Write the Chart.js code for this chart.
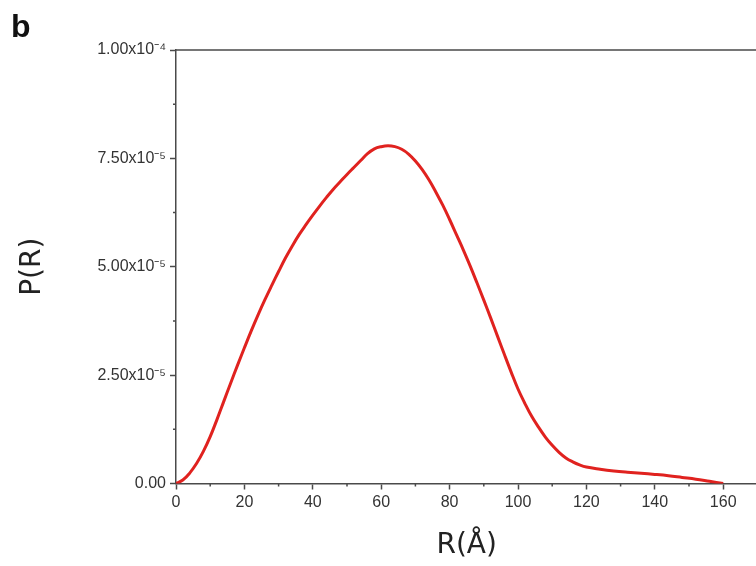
<!DOCTYPE html>
<html><head><meta charset="utf-8">
<script src="https://cdn.jsdelivr.net/npm/chart.js@4/dist/chart.umd.min.js"></script>
<style>html,body{margin:0;padding:0;overflow:hidden;background:#fff;width:756px;height:566px}canvas{display:block}</style>
</head><body>
<canvas id="c" width="760" height="566"></canvas>
<script>
const rValues = [0,2,4,6,8,10,12,14,16,18,20,22,24,26,28,30,32,34,36,38,40,42,44,46,48,50,52,54,56,58,60,62,64,66,68,70,72,74,76,78,80,82,84,86,88,90,92,94,96,98,100,102,104,106,108,110,112,114,116,118,120,124,128,132,136,140,144,148,152,156,160];
const pValues = [0,0.08e-5,0.24e-5,0.46e-5,0.74e-5,1.08e-5,1.48e-5,1.90e-5,2.32e-5,2.73e-5,3.13e-5,3.52e-5,3.89e-5,4.24e-5,4.57e-5,4.89e-5,5.20e-5,5.48e-5,5.74e-5,5.97e-5,6.19e-5,6.40e-5,6.60e-5,6.79e-5,6.96e-5,7.13e-5,7.29e-5,7.45e-5,7.61e-5,7.72e-5,7.77e-5,7.79e-5,7.77e-5,7.71e-5,7.60e-5,7.44e-5,7.24e-5,7.00e-5,6.72e-5,6.42e-5,6.09e-5,5.74e-5,5.39e-5,5.02e-5,4.63e-5,4.23e-5,3.82e-5,3.40e-5,2.98e-5,2.57e-5,2.18e-5,1.85e-5,1.55e-5,1.30e-5,1.07e-5,0.88e-5,0.72e-5,0.59e-5,0.50e-5,0.43e-5,0.38e-5,0.33e-5,0.29e-5,0.26e-5,0.235e-5,0.21e-5,0.18e-5,0.14e-5,0.10e-5,0.05e-5,0];
const xTicks = [0,20,40,60,80,100,120,140,160];
const xMinorTicks = [10,30,50,70,90,110,130,150,170];
const yTicks = [0,2.5e-5,5e-5,7.5e-5,1e-4];
const yTickLabels = ['0.00','2.50x10\u207B\u2075','5.00x10\u207B\u2075','7.50x10\u207B\u2075','1.00x10\u207B\u2074'];
const yMinorTicks = [1.25e-5,3.75e-5,6.25e-5,8.75e-5];

const axisColor = '#4a4a4a';
const extras = {
  id: 'extras',
  afterDraw(chart) {
    const ctx = chart.ctx, a = chart.chartArea;
    const xs = chart.scales.x, ys = chart.scales.y;
    ctx.save();
    ctx.strokeStyle = axisColor;
    ctx.lineWidth = 1.5;
    ctx.beginPath();
    ctx.moveTo(a.left - 0.75, a.top);
    ctx.lineTo(chart.width, a.top);
    xMinorTicks.forEach(v => { const p = xs.getPixelForValue(v); ctx.moveTo(p, a.bottom); ctx.lineTo(p, a.bottom + 3); });
    yMinorTicks.forEach(v => { const p = ys.getPixelForValue(v); ctx.moveTo(a.left, p); ctx.lineTo(a.left - 3, p); });
    ctx.stroke();
    ctx.fillStyle = '#111';
    ctx.font = 'bold 32px "Liberation Sans", Arial, sans-serif';
    ctx.textBaseline = 'alphabetic';
    ctx.fillText('b', 11, 37);
    ctx.restore();
  }
};

new Chart(document.getElementById('c'), {
  type: 'line',
  data: { datasets: [{
    data: rValues.map((r, i) => ({ x: r, y: pValues[i] })),
    borderColor: '#e0221f', borderWidth: 3, pointRadius: 0, fill: false,
    tension: 0.4
  }]},
  options: {
    responsive: false, animation: false, devicePixelRatio: 1,
    layout: { padding: { top: 50, right: 2.6, left: 0, bottom: 0 } },
    plugins: { legend: { display: false }, tooltip: { enabled: false } },
    scales: {
      x: {
        type: 'linear', min: 0, max: 170,
        afterFit(s) { s.height = 82.5; },
        afterBuildTicks(s) { s.ticks = xTicks.map(v => ({ value: v })); },
        grid: { drawOnChartArea: false, tickLength: 6, tickColor: axisColor, tickWidth: 1.5 },
        border: { color: axisColor, width: 1.5 },
        ticks: { font: { family: '"Liberation Sans", Arial, sans-serif', size: 16 }, color: '#333', padding: 3, maxRotation: 0, autoSkip: false },
        title: { display: true, text: 'R(Å)', color: '#222', font: { family: '"DejaVu Sans", sans-serif', size: 28 }, padding: { top: 0, bottom: 3 } }
      },
      y: {
        type: 'linear', min: 0, max: 1e-4,
        afterFit(s) { s.width = 176; },
        afterBuildTicks(s) { s.ticks = yTicks.map(v => ({ value: v })); },
        grid: { drawOnChartArea: false, tickLength: 6, tickColor: axisColor, tickWidth: 1.5 },
        border: { color: axisColor, width: 1.5 },
        ticks: { font: { family: '"Liberation Sans", Arial, sans-serif', size: 16 }, color: '#333', padding: 4, autoSkip: false, callback: (v, i) => yTickLabels[i] },
        title: { display: true, text: 'P(R)', color: '#222', font: { family: '"DejaVu Sans", sans-serif', size: 28 }, padding: { top: 16, bottom: 0 } }
      }
    }
  },
  plugins: [extras]
});
</script>
</body></html>
